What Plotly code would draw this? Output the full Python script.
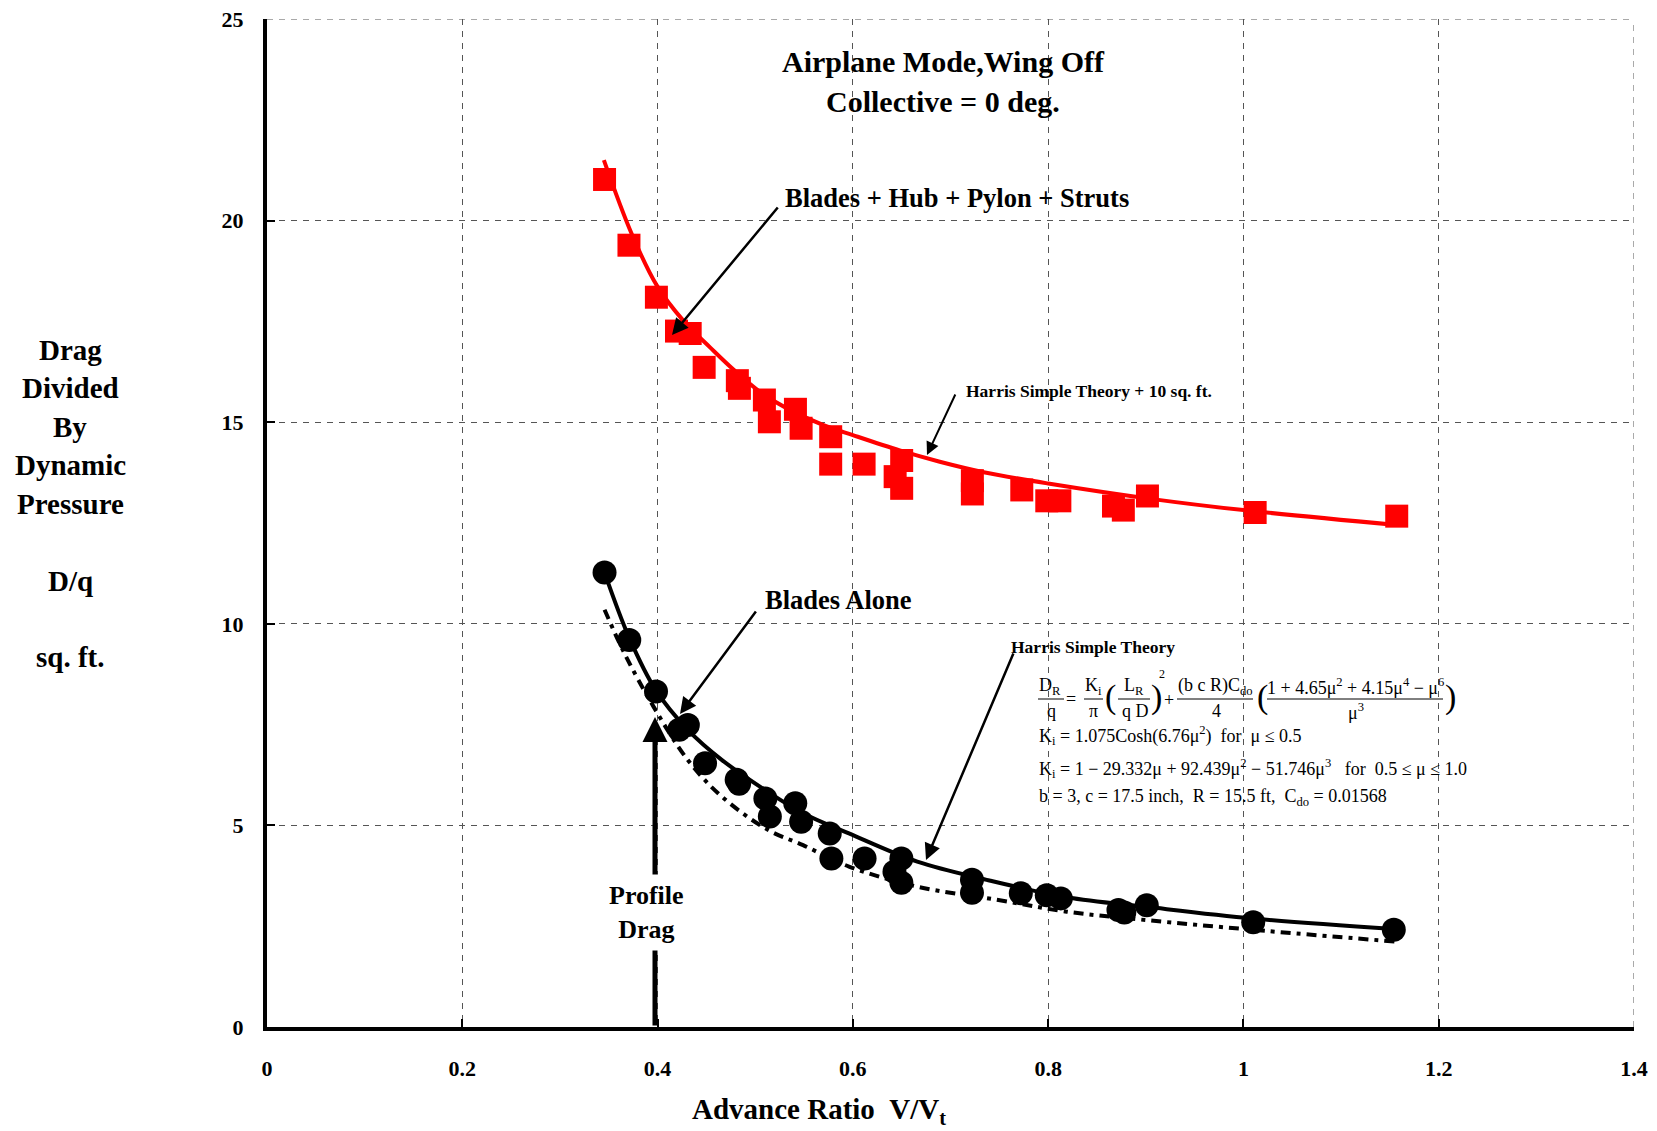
import plotly.graph_objects as go

# ---------------- data ----------------
mu_full = [0.3457, 0.3707, 0.3988, 0.4194, 0.4334, 0.4477, 0.4817, 0.4838, 0.5094, 0.5145,
           0.5412, 0.5470, 0.5773, 0.5773, 0.6115, 0.6433, 0.6500, 0.6500, 0.7224, 0.7224,
           0.7730, 0.7986, 0.8120, 0.8669, 0.8770, 0.9017, 1.0120, 1.1570]
dq_full = [21.02, 19.39, 18.10, 17.26, 17.20, 16.36, 16.03, 15.84, 15.55, 15.01,
           15.32, 14.85, 14.64, 13.96, 13.96, 13.65, 14.05, 13.36, 13.55, 13.22,
           13.32, 13.05, 13.05, 12.92, 12.82, 13.17, 12.76, 12.67]

mu_blades = [0.3457, 0.3710, 0.3984, 0.4222, 0.4310, 0.4486, 0.4810, 0.4835, 0.5104, 0.5150,
             0.5410, 0.5470, 0.5763, 0.5780, 0.6120, 0.6426, 0.6497, 0.6497, 0.7220, 0.7220,
             0.7720, 0.7986, 0.8130, 0.8720, 0.8780, 0.9010, 1.0100, 1.1540]
dq_blades = [11.27, 9.60, 8.32, 7.37, 7.49, 6.54, 6.13, 6.03, 5.67, 5.22,
             5.55, 5.09, 4.80, 4.18, 4.18, 3.85, 4.18, 3.58, 3.65, 3.33,
             3.32, 3.27, 3.19, 2.90, 2.84, 3.02, 2.60, 2.41]

mu_th10 = [0.345, 0.373, 0.399, 0.427, 0.454, 0.478, 0.508, 0.536, 0.570, 0.600,
           0.648, 0.689, 0.734, 0.800, 0.911, 1.000, 1.157]
dq_th10 = [21.50, 19.70, 18.40, 17.50, 16.85, 16.30, 15.70, 15.30, 14.93, 14.68,
           14.30, 14.02, 13.76, 13.48, 13.08, 12.82, 12.45]

mu_th = [0.3457, 0.371, 0.398, 0.431, 0.466, 0.510, 0.549, 0.596, 0.666, 0.737,
         0.819, 0.901, 1.010, 1.155]
dq_th = [11.27, 9.65, 8.36, 7.37, 6.62, 5.88, 5.30, 4.80, 4.10, 3.65,
         3.22, 2.98, 2.69, 2.43]

mu_prof = [0.3457, 0.366, 0.396, 0.431, 0.466, 0.513, 0.549, 0.596, 0.666, 0.749,
           0.819, 0.901, 1.010, 1.155]
dq_prof = [10.35, 9.27, 7.94, 6.62, 5.71, 4.89, 4.51, 3.98, 3.48, 3.15,
           2.86, 2.65, 2.41, 2.12]

x_ticks = [0, 0.2, 0.4, 0.6, 0.8, 1.0, 1.2, 1.4]
x_tick_text = ["0", "0.2", "0.4", "0.6", "0.8", "1", "1.2", "1.4"]
y_ticks = [0, 5, 10, 15, 20, 25]
y_tick_text = ["0", "5", "10", "15", "20", "25"]

# ---------------- layout geometry (page pixels) ----------------
W, H = 1657, 1131
L, R, T, B = 267, 1634, 19, 1027   # plot area on the page
XMAX, YMAX = 1.4, 25.0

def X(px):
    return (px - L) / (R - L) * XMAX

def Y(py):
    return (B - py) / (B - T) * YMAX

def PX(px):
    return (px - L) / (R - L)

def PY(py):
    return (B - py) / (B - T)

SERIF = "Liberation Serif, Times New Roman, serif"

fig = go.Figure()

fig.add_trace(go.Scatter(x=mu_th10, y=dq_th10, mode="lines",
                         line=dict(color="#ff0000", width=4, shape="spline"),
                         showlegend=False, hoverinfo="skip"))
fig.add_trace(go.Scatter(x=mu_prof, y=dq_prof, mode="lines",
                         line=dict(color="black", width=4, shape="spline", dash="10px,6px,4px,6px"),
                         showlegend=False, hoverinfo="skip"))
fig.add_trace(go.Scatter(x=mu_th, y=dq_th, mode="lines",
                         line=dict(color="black", width=4, shape="spline"),
                         showlegend=False, hoverinfo="skip"))
fig.add_trace(go.Scatter(x=mu_full, y=dq_full, mode="markers",
                         marker=dict(symbol="square", size=23, color="#ff0000", line=dict(width=0)),
                         showlegend=False))
fig.add_trace(go.Scatter(x=mu_blades, y=dq_blades, mode="markers",
                         marker=dict(symbol="circle", size=24, color="black", line=dict(width=0)),
                         showlegend=False))

ann = []

def text(t, px, py, size, bold=True, anchor="center", bg=None, pad=1):
    d = dict(text=("<b>%s</b>" % t) if bold else t, x=X(px), y=Y(py), xref="x", yref="y",
             showarrow=False, xanchor=anchor, yanchor="middle", borderpad=pad,
             font=dict(family=SERIF, size=size, color="black"))
    if bg:
        d["bgcolor"] = bg
    ann.append(d)

def arrow(tx, ty, hx, hy, width=2.5, size=1.3, head=2):
    ann.append(dict(text="", x=X(hx), y=Y(hy), ax=X(tx), ay=Y(ty),
                    xref="x", yref="y", axref="x", ayref="y",
                    showarrow=True, arrowhead=head, arrowsize=size, arrowwidth=width,
                    arrowcolor="black", standoff=0, startstandoff=0))

# title
text("Airplane Mode,Wing Off", 943, 61, 30)
text("Collective = 0 deg.", 943, 101, 30)

# curve labels + arrows
text("Blades + Hub + Pylon + Struts", 783, 198, 26.5, anchor="left")
arrow(779, 206, 672, 335)
text("Harris Simple Theory + 10 sq. ft.", 964, 391, 17.5, anchor="left")
arrow(956, 393, 927, 455, width=2)
text("Blades Alone", 763, 600, 26.5, anchor="left")
arrow(757, 610, 680, 714)
text("Harris Simple Theory", 1009, 647, 17.5, anchor="left")
arrow(1014, 652, 926, 860)

# profile drag arrow (thick) with label
arrow(655, 1027, 655, 717, width=5, size=1.0, head=2)
text("Profile<br>Drag", 646, 912, 26, bg="white", pad=6)

# formula
FS = 18
PS = 34
text("D<sub>R</sub>", 1050, 686, FS, bold=False)
text("q", 1051, 711, FS, bold=False)
text("=", 1071, 699, FS, bold=False)
text("K<sub>i</sub>", 1093, 686, FS, bold=False)
text("π", 1093, 711, FS, bold=False)
text("(", 1110, 697, PS, bold=False)
text("L<sub>R</sub>", 1134, 686, FS, bold=False)
text("q D", 1135, 711, FS, bold=False)
text(")", 1156, 697, PS, bold=False)
text("2", 1162, 674, 12, bold=False)
text("+", 1169, 700, FS, bold=False)
text("(b c R)C<sub>do</sub>", 1215, 686, FS, bold=False)
text("4", 1216, 711, FS, bold=False)
text("(", 1262, 697, PS, bold=False)
text("1 + 4.65μ<sup>2</sup> + 4.15μ<sup>4</sup> − μ<sup>6</sup>", 1355, 686, FS, bold=False)
text("μ<sup>3</sup>", 1356, 711, FS, bold=False)
text(")", 1450, 697, PS, bold=False)

shapes = []
for x0, x1 in [(1038, 1064), (1084, 1103), (1118, 1150), (1177, 1253), (1267, 1443)]:
    shapes.append(dict(type="line", xref="x", yref="y", x0=X(x0), x1=X(x1), y0=Y(699), y1=Y(699),
                       line=dict(color="black", width=1)))
# edge grid lines (x = 1.4, y = 25)
shapes.append(dict(type="line", xref="x", yref="y", x0=XMAX, x1=XMAX, y0=0, y1=YMAX, layer="below",
                   line=dict(color="#555555", width=1, dash="6px,6px")))
shapes.append(dict(type="line", xref="x", yref="y", x0=0, x1=XMAX, y0=YMAX, y1=YMAX, layer="below",
                   line=dict(color="#555555", width=1, dash="6px,6px")))

text("K<sub>i</sub> = 1.075Cosh(6.76μ<sup>2</sup>)\u00a0\u00a0for\u00a0\u00a0μ ≤ 0.5", 1037, 735, FS, bold=False, anchor="left")
text("K<sub>i</sub> = 1 − 29.332μ + 92.439μ<sup>2</sup> − 51.746μ<sup>3</sup>\u00a0\u00a0\u00a0for\u00a0\u00a00.5 ≤ μ ≤ 1.0",
     1037, 768, FS, bold=False, anchor="left")
text("b = 3, c = 17.5 inch,\u00a0\u00a0R = 15.5 ft,\u00a0\u00a0C<sub>do</sub> = 0.01568", 1037, 797, FS, bold=False, anchor="left")

# y axis title (stacked lines)
for t, py in [("Drag", 350), ("Divided", 388), ("By", 427), ("Dynamic", 465),
              ("Pressure", 504), ("D/q", 581), ("sq. ft.", 657)]:
    ann.append(dict(text="<b>%s</b>" % t, x=PX(70), y=PY(py),
                    xref="paper", yref="paper", showarrow=False, xanchor="center", yanchor="middle",
                    font=dict(family=SERIF, size=29, color="black")))

ann.append(dict(text="<b>Advance Ratio\u00a0\u00a0V/V<sub>t</sub></b>", x=PX(819), y=PY(1111),
                xref="paper", yref="paper", showarrow=False, xanchor="center", yanchor="middle",
                font=dict(family=SERIF, size=29, color="black")))

grid = dict(showgrid=True, gridcolor="#555555", gridwidth=1, griddash="6px,6px")

fig.update_layout(
    width=W, height=H,
    margin=dict(l=L, r=W - R, t=T, b=H - B, pad=0, autoexpand=False),
    paper_bgcolor="white", plot_bgcolor="white",
    annotations=ann, shapes=shapes,
    xaxis=dict(range=[0, XMAX], tickvals=x_ticks, ticktext=["<b>%s</b>" % s for s in x_tick_text],
               showline=True, automargin=False, ticklabeloverflow="allow",
               linecolor="black", linewidth=4, ticks="inside", ticklen=8, tickwidth=2,
               tickcolor="black", zeroline=False, ticklabelstandoff=19,
               tickfont=dict(family=SERIF, size=22, color="black"), **grid),
    yaxis=dict(range=[0, YMAX], tickvals=y_ticks, ticktext=["<b>%s</b>" % s for s in y_tick_text],
               showline=True, automargin=False, ticklabeloverflow="allow",
               linecolor="black", linewidth=4, ticks="inside", ticklen=8, tickwidth=2,
               tickcolor="black", zeroline=False, ticklabelstandoff=15,
               tickfont=dict(family=SERIF, size=22, color="black"), **grid),
    font=dict(family=SERIF, color="black"),
)

fig.write_html("out.html", config={"displayModeBar": False},
               post_script="document.body.style.margin='0';document.body.style.overflow='hidden';")
